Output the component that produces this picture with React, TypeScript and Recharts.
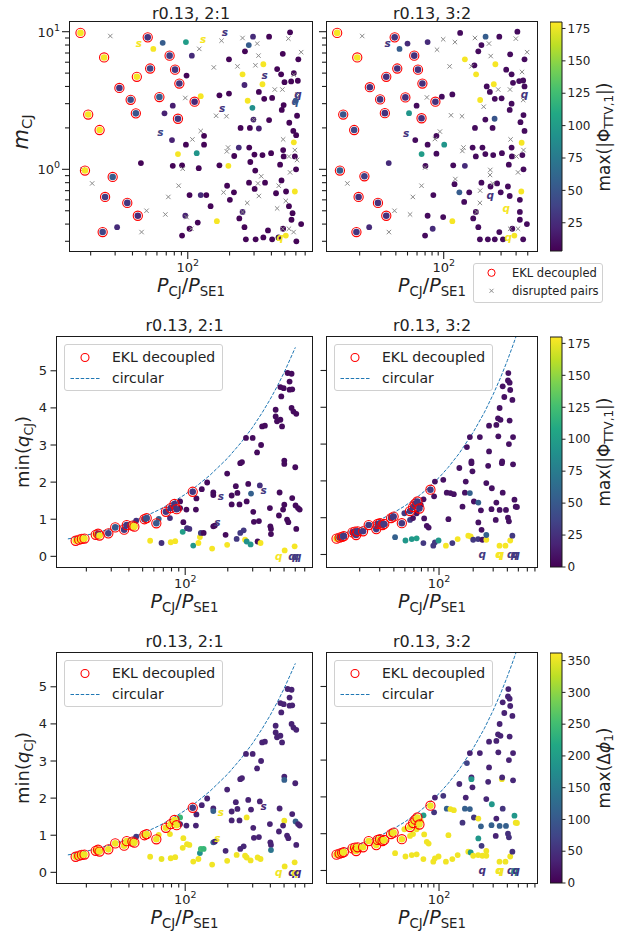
import React from "react";
import { ScatterChart, Scatter, XAxis, YAxis, ComposedChart, ReferenceArea } from "recharts";

// ---------- top row: m_CJ vs P_CJ/P_SE1, colour = max|Phi_TTV,1| ----------
// [P, m, ttv]
const top21Dots = [
  [56.5, 7.5, 178], [66, 8.3, 55], [97, 8.4, 100], [107, 6.7, 25], [98, 4.8, 5], [124, 3.4, 178], [68, 2.55, 20], [78, 2.9, 18],
  [169, 3.45, 5], [198, 6.3, 5], [198, 3.55, 5], [295, 9.2, 25], [275, 8.0, 55], [258, 7.2, 5], [385, 9.2, 5], [545, 9.9, 5],
  [248, 4.9, 178], [350, 5.8, 178], [345, 4.15, 178], [256, 4.1, 22], [270, 3.15, 178], [292, 2.8, 90], [325, 3.65, 5], [355, 3.25, 5],
  [405, 3.3, 5], [385, 2.28, 5], [297, 2.3, 20], [280, 2.0, 5], [325, 1.98, 18], [240, 2.0, 5], [440, 5.35, 5], [470, 4.9, 5],
  [497, 4.3, 5], [580, 5.0, 5], [620, 4.4, 5], [625, 6.3, 5], [483, 6.9, 5], [475, 2.7, 5], [490, 2.93, 5], [555, 4.35, 5],
  [598, 3.15, 50], [538, 2.18, 5], [612, 2.45, 5], [575, 1.9, 5], [603, 1.77, 5], [77, 1.63, 20], [97, 1.51, 5], [131, 1.75, 5],
  [131, 1.51, 5], [85, 1.29, 178], [116, 1.31, 95], [78, 1.06, 5], [91, 1.07, 5], [120, 1.02, 5], [169, 1.07, 5], [196, 1.06, 178],
  [216, 1.25, 5], [233, 1.44, 25], [277, 1.44, 5], [302, 1.28, 5], [282, 1.13, 5], [306, 0.98, 5], [345, 1.27, 5], [398, 1.31, 5],
  [486, 1.38, 5], [490, 1.24, 5], [462, 1.08, 5], [602, 1.0, 5], [580, 1.57, 178], [590, 1.24, 5], [46, 1.11, 5], [124, 0.65, 25],
  [103, 0.65, 5], [136, 0.65, 5], [192, 0.76, 5], [201, 0.6, 5], [215, 0.68, 5], [276, 0.8, 5], [303, 0.72, 5], [360, 0.8, 5],
  [432, 0.67, 5], [473, 0.83, 5], [590, 0.69, 178], [510, 0.69, 5], [535, 0.54, 5], [568, 0.48, 5], [558, 0.43, 5], [655, 0.4, 5],
  [146, 0.54, 5], [96, 0.46, 20], [118, 0.41, 5], [103, 0.37, 5], [162, 0.42, 178], [235, 0.44, 5], [256, 0.38, 5], [248, 0.49, 20],
  [262, 0.31, 5], [308, 0.31, 5], [350, 0.32, 5], [378, 0.36, 5], [405, 0.31, 5], [450, 0.32, 5], [508, 0.33, 178], [486, 0.37, 5],
  [605, 0.3, 5], [31, 0.38, 25], [91, 0.33, 5],
];
const top21Ekl = [
  [16.9, 9.8, 178], [25, 6.5, 178], [19.2, 2.5, 178], [23.2, 1.93, 178], [18.2, 0.98, 178], [28.8, 0.88, 55], [25.4, 0.63, 35], [24.4, 0.35, 40],
  [32.2, 3.9, 30], [38.8, 3.2, 45], [42.3, 2.55, 50], [43, 4.7, 178], [36.7, 0.57, 30], [43.7, 0.46, 25], [51.5, 9.1, 30], [53.6, 5.4, 40],
  [62.5, 3.35, 55], [74, 6.7, 35], [81, 5.3, 30], [87, 4.2, 30], [85, 2.33, 30], [112, 3.1, 22],
];
const top21Cross = [
  [27.7, 9.3], [121, 7.5], [175, 8.6], [248, 9.0], [316, 8.2], [530, 8.9], [655, 7.1], [154, 5.5], [228, 5.6], [307, 5.7],
  [323, 6.7], [423, 3.8], [480, 3.8], [580, 4.87], [615, 3.5], [96, 3.3], [160, 2.45], [190, 2.43], [298, 2.3], [124, 1.9],
  [108, 1.65], [195, 1.44], [191, 1.35], [486, 1.65], [590, 1.38], [612, 1.17], [535, 1.24], [545, 0.95], [20.5, 0.79], [17.5, 1.0],
  [50.5, 0.5], [69, 0.47], [86, 0.76], [72.5, 0.63], [46.5, 0.35], [106, 0.37], [98, 0.45], [181, 0.68], [268, 0.57], [248, 0.49],
  [320, 0.79], [338, 0.89], [325, 0.64], [452, 0.76], [440, 0.52], [508, 0.59], [483, 0.37], [535, 0.37], [578, 0.35], [92, 1.01],
];
const top21Letters = [
  [44.5, 8.2, 178, "s"], [129, 8.7, 178, "s"], [185, 9.8, 30, "s"], [63.5, 1.84, 40, "s"], [177, 2.75, 30, "s"], [358, 4.76, 30, "s"],
  [462, 0.32, 178, "q"], [595, 3.1, 50, "q"], [623, 3.5, 30, "q"],
];

const top32Dots = [
  [42.9, 7.5, 55], [50, 8.2, 25], [73.5, 8.4, 25], [59.5, 2.9, 8], [51.5, 2.56, 95], [58, 1.63, 8], [73.5, 1.51, 8], [87, 1.75, 8],
  [101, 1.51, 95], [87, 1.3, 8], [65.5, 1.29, 100], [34.9, 1.11, 25], [70.5, 1.06, 8], [118, 3.5, 8], [96.5, 3.37, 8], [137, 9.8, 8],
  [223, 9.2, 55], [206, 8.0, 8], [194, 7.2, 8], [290, 9.2, 8], [410, 10, 8], [150, 6.3, 178], [186, 4.9, 178], [180, 5.7, 8],
  [269, 5.8, 178], [261, 4.15, 178], [201, 3.19, 178], [228, 4.0, 8], [242, 3.65, 8], [266, 3.25, 8], [303, 3.28, 8], [357, 6.85, 8],
  [470, 6.3, 8], [331, 5.3, 8], [367, 4.9, 8], [377, 4.25, 8], [424, 4.38, 8], [458, 4.42, 8], [354, 2.7, 8], [367, 3.0, 8],
  [470, 4.0, 8], [461, 2.48, 8], [435, 2.2, 8], [470, 1.9, 8], [182, 2.0, 8], [255, 2.0, 8], [265, 2.33, 50], [222, 2.3, 8],
  [174, 1.44, 8], [210, 1.44, 8], [222, 1.29, 8], [185, 1.24, 8], [150, 1.06, 25], [120, 1.07, 8], [258, 1.27, 8], [305, 1.31, 8],
  [367, 1.44, 8], [369, 1.24, 8], [348, 1.08, 8], [445, 1.56, 178], [451, 1.27, 8], [461, 1.0, 8], [442, 0.69, 178], [135, 0.68, 55],
  [123, 0.78, 8], [163, 0.68, 8], [206, 0.8, 8], [245, 0.75, 8], [278, 0.79, 8], [298, 0.68, 8], [342, 0.75, 8], [354, 0.64, 8],
  [430, 0.6, 8], [430, 0.49, 8], [430, 0.43, 8], [492, 0.4, 8], [82, 0.65, 8], [73.5, 0.46, 8], [99, 0.45, 8], [148, 0.58, 8],
  [118, 0.42, 178], [176, 0.44, 8], [194, 0.38, 8], [185, 0.49, 8], [290, 0.35, 8], [311, 0.31, 8], [372, 0.37, 8], [387, 0.33, 178],
  [200, 0.31, 8], [233, 0.31, 8], [266, 0.31, 8], [458, 0.31, 8], [70, 0.33, 8], [81, 0.37, 25], [24, 0.38, 25],
];
const top32Ekl = [
  [13, 9.8, 178], [19.1, 6.5, 178], [14.6, 2.5, 50], [18, 1.93, 40], [13.7, 0.98, 55], [21.9, 0.89, 35], [19.6, 0.63, 28], [28.4, 0.57, 28],
  [33.3, 0.46, 28], [18.8, 0.35, 30], [24.3, 3.95, 28], [29.6, 3.22, 30], [32.4, 2.56, 28], [33.3, 4.7, 28], [39.1, 9.1, 30], [41.1, 5.4, 28],
  [48, 3.33, 28], [56.9, 6.7, 28], [61.1, 5.3, 28], [66.5, 4.2, 28], [65.4, 2.35, 28], [85.3, 3.1, 28],
];
const top32Cross = [
  [21, 9.3], [15.8, 0.79], [35, 0.35], [39, 0.5], [52.5, 0.47], [55.4, 0.63], [65.4, 0.76], [70, 1.03], [72.5, 3.33], [84.5, 1.66],
  [93, 1.88], [88, 7.4], [99, 8.8], [124, 8.4], [112, 5.6], [115, 2.47], [142, 2.43], [146, 1.44], [143, 1.36], [125, 0.85],
  [182, 9.0], [238, 8.2], [246, 6.65], [170, 5.6], [284, 3.8], [356, 3.8], [215, 2.85], [360, 1.65], [461, 1.38], [403, 1.24],
  [415, 0.95], [243, 0.91], [256, 0.79], [201, 0.7], [200, 0.57], [188, 0.49], [357, 0.37], [398, 8.9], [494, 7.1], [448, 5.1],
  [458, 3.19], [415, 0.37], [244, 0.99],
];
const top32Letters = [
  [34.2, 8.2, 30, "s"], [48.6, 1.83, 30, "s"], [470, 3.5, 30, "q"], [331, 0.52, 178, "q"], [345, 0.32, 178, "q"], [244, 0.64, 30, "q"],
];

// ---------- middle / bottom rows: min(q_CJ) vs P_CJ/P_SE1 ----------
// [P, q, ttv, dphi]
const q21Dots = [
  [45, 0.96, 25, 60], [65, 1.01, 55, 355], [68, 0.36, 25, 350], [56.5, 0.42, 178, 355], [79, 0.38, 178, 355], [85, 0.41, 178, 355],
  [78, 1.03, 25, 355], [92, 1.48, 5, 240], [92, 1.3, 5, 35], [97, 0.92, 5, 355], [96, 0.66, 100, 355], [103, 0.76, 25, 355],
  [107, 0.74, 25, 355], [102, 1.26, 5, 35], [114, 0.29, 95, 355], [124, 0.36, 178, 355], [127, 0.52, 178, 180], [129, 0.63, 30, 250],
  [119, 1.26, 5, 35], [120, 1.56, 5, 35], [131, 1.81, 5, 35], [135, 0.63, 5, 240], [143, 1.99, 5, 35], [158, 1.72, 5, 35],
  [158, 1.65, 5, 110], [158, 0.81, 5, 110], [162, 0.83, 5, 35], [155, 0.21, 178, 355], [193, 0.58, 5, 40], [198, 0.31, 178, 355],
  [198, 2.23, 5, 35], [213, 1.64, 5, 35], [213, 1.4, 5, 35], [228, 1.89, 5, 35], [234, 1.71, 5, 35], [242, 1.4, 5, 35],
  [231, 0.47, 30, 355], [245, 0.63, 30, 40], [245, 2.51, 5, 35], [252, 2.54, 5, 35], [259, 0.7, 30, 40], [265, 0.45, 178, 355],
  [269, 3.19, 5, 35], [272, 1.48, 5, 355], [279, 1.95, 5, 35], [272, 0.4, 90, 355], [292, 1.69, 55, 35], [290, 0.32, 95, 355],
  [300, 3.19, 5, 35], [303, 1.2, 5, 35], [306, 0.93, 5, 35], [322, 2.8, 5, 35], [325, 0.4, 5, 355], [332, 0.95, 5, 35],
  [337, 1.91, 25, 35], [344, 3.0, 5, 35], [350, 3.5, 5, 35], [366, 3.52, 5, 35], [341, 0.36, 178, 355], [397, 1.3, 5, 35],
  [400, 0.81, 5, 35], [404, 0.74, 5, 35], [404, 0.6, 5, 140], [436, 3.95, 5, 35], [436, 3.77, 5, 35], [446, 3.64, 5, 35],
  [471, 4.56, 5, 35], [471, 3.68, 5, 35], [484, 3.5, 5, 35], [465, 1.72, 5, 35], [460, 1.1, 5, 35], [478, 4.31, 5, 35],
  [497, 4.53, 5, 35], [502, 2.58, 5, 35], [502, 2.49, 5, 110], [502, 1.39, 5, 355], [530, 4.94, 5, 35], [547, 4.71, 5, 35],
  [547, 4.49, 5, 35], [565, 4.92, 5, 35], [565, 4.0, 5, 35], [571, 4.5, 5, 35], [571, 1.57, 5, 35], [583, 3.9, 5, 35],
  [600, 2.4, 5, 35], [603, 1.37, 5, 110], [594, 0.27, 178, 355], [505, 0.16, 178, 355], [610, 3.84, 5, 35], [610, 0.74, 5, 35],
  [628, 1.3, 5, 35], [645, 1.26, 5, 35], [525, 0.99, 5, 35], [536, 0.92, 5, 35], [492, 1.26, 5, 35],
];
const q21Ekl = [
  [16.8, 0.42, 178, 355], [17.8, 0.45, 178, 355], [18.6, 0.47, 178, 355], [19.4, 0.48, 178, 355], [23.3, 0.58, 178, 355],
  [24.2, 0.61, 30, 355], [24.8, 0.56, 178, 355], [28.6, 0.62, 35, 355], [32, 0.78, 50, 355], [37, 0.72, 30, 355],
  [38.6, 0.84, 30, 355], [42.3, 0.83, 178, 355], [43.7, 0.8, 178, 355], [51.5, 1.0, 45, 355], [53.4, 1.03, 45, 355],
  [62.5, 0.89, 50, 355], [73, 1.2, 30, 355], [79, 1.3, 28, 355], [84, 1.41, 28, 355], [87, 1.27, 28, 355], [113, 1.74, 28, 60],
];
const q21Letters = [
  [179, 1.62, 30, 355, "s"], [169, 0.92, 30, 355, "s"], [359, 1.77, 30, 40, "s"],
  [458, 0, 178, 355, "q"], [570, 0, 30, 40, "q"], [600, 0, 30, 355, "q"], [625, 0, 30, 40, "q"],
];

const q32Dots = [
  [41, 0.47, 55, 355], [50.6, 0.38, 95, 355], [57.5, 0.42, 95, 355], [63.5, 0.44, 100, 355], [72.8, 0.31, 30, 355], [89, 0.24, 30, 355],
  [92, 0.33, 30, 355], [99, 0.38, 95, 355], [115, 0.24, 178, 355], [131, 0.31, 30, 355], [146, 0.42, 178, 355], [181, 0.51, 178, 355],
  [190, 0.49, 178, 190], [200, 0.4, 30, 355], [221, 0.42, 30, 355], [241, 0.4, 8, 355], [261, 0.4, 178, 355], [261, 0.53, 55, 355],
  [341, 0.24, 178, 355], [385, 0.24, 178, 355], [424, 0.38, 178, 355], [443, 0.51, 30, 50], [49.5, 1.12, 30, 355], [55.5, 0.94, 30, 355],
  [59, 0.99, 8, 355], [63.5, 1.12, 8, 355], [69, 1.35, 8, 355], [73, 1.5, 8, 200], [74, 0.98, 8, 355], [78, 0.78, 8, 355],
  [81, 0.73, 8, 355], [90.5, 1.58, 8, 55], [92, 1.98, 8, 35], [109, 2.03, 8, 55], [117, 1.68, 8, 110], [126, 1.67, 8, 355],
  [121, 0.96, 8, 355], [135, 1.64, 8, 355], [151, 2.35, 8, 40], [161, 1.3, 8, 55], [169, 1.68, 8, 110], [172, 1.98, 8, 35],
  [176, 2.92, 8, 70], [187, 3.19, 8, 35], [193, 2.53, 8, 35], [193, 2.48, 8, 190], [197, 2.26, 8, 35], [203, 1.44, 8, 55],
  [222, 1.41, 55, 355], [187, 1.67, 55, 110], [229, 3.19, 8, 35], [234, 1.2, 8, 110], [222, 0.87, 8, 190], [237, 0.67, 8, 60],
  [261, 1.94, 8, 40], [292, 1.8, 8, 190], [271, 2.41, 8, 40], [276, 2.8, 8, 35], [290, 1.23, 8, 110], [316, 0.94, 8, 35],
  [320, 1.41, 8, 35], [331, 3.7, 8, 35], [333, 3.21, 8, 35], [342, 3.98, 8, 35], [348, 3.66, 8, 35], [342, 1.21, 8, 110],
  [364, 1.68, 8, 55], [358, 2.48, 8, 355], [360, 2.53, 8, 40], [364, 4.57, 8, 35], [376, 4.28, 8, 35], [389, 1.21, 8, 110],
  [405, 1.0, 8, 50], [413, 0.9, 8, 50], [419, 3.64, 8, 35], [413, 3.0, 8, 35], [419, 4.67, 8, 35], [424, 4.47, 8, 35],
  [408, 4.93, 8, 35], [405, 4.73, 8, 35], [443, 4.2, 8, 35], [449, 3.19, 8, 35], [449, 2.45, 8, 40], [462, 1.49, 8, 190],
  [474, 1.3, 8, 355], [486, 1.29, 8, 355], [320, 3.52, 8, 35], [276, 3.5, 8, 35],
];
const q32Ekl = [
  [12.5, 0.43, 178, 355], [13.3, 0.46, 30, 355], [14, 0.48, 45, 355], [14.5, 0.5, 30, 355], [17.3, 0.6, 30, 355], [18.2, 0.62, 30, 355],
  [18.6, 0.53, 30, 355], [19.2, 0.63, 30, 355], [21.4, 0.63, 30, 355], [24, 0.8, 30, 355], [28, 0.69, 30, 355], [28.8, 0.83, 30, 355],
  [30.2, 0.85, 30, 355], [31.8, 0.8, 30, 355], [32.9, 0.83, 30, 355], [37.8, 0.99, 30, 355], [39.8, 1.03, 30, 355], [47, 0.85, 30, 355],
  [55.5, 1.18, 30, 355], [59.2, 1.29, 30, 355], [61.8, 1.38, 30, 355], [64.5, 1.44, 30, 355], [67.2, 1.25, 30, 355], [84, 1.76, 30, 355],
];
const q32Letters = [
  [241, 0, 30, 50, "q"], [337, 0, 178, 355, "q"], [348, 0, 178, 355, "q"], [429, 0, 30, 50, "q"], [462, 0, 30, 180, "q"], [479, 0, 30, 50, "q"],
];

// circular-orbit curve
const circ21P = [14.8, 17, 20, 25, 30, 40, 50, 65, 80, 100, 120, 150, 200, 250, 300, 350, 400, 450, 500, 550, 601];
const circ21Q = [0.47, 0.51, 0.57, 0.66, 0.75, 0.91, 1.05, 1.25, 1.44, 1.67, 1.89, 2.19, 2.65, 3.08, 3.48, 3.87, 4.24, 4.6, 4.95, 5.3, 5.63];
const circ32P = [12.2, 15, 20, 25, 30, 40, 50, 65, 80, 100, 120, 150, 200, 250, 300, 350, 400, 450, 478];
const circ32Q = [0.51, 0.59, 0.72, 0.83, 0.94, 1.14, 1.32, 1.57, 1.8, 2.09, 2.36, 2.74, 3.32, 3.85, 4.35, 4.82, 5.27, 5.7, 5.93];

const X_TICKS = [20, 30, 40, 50, 60, 70, 80, 90, 100, 200, 300, 400, 500, 600, 700, 800, 900];
const Y_LOG_TICKS = [0.3, 0.4, 0.5, 0.6, 0.7, 0.8, 0.9, 1, 2, 3, 4, 5, 6, 7, 8, 9, 10];
const Y_LIN_TICKS = [0, 1, 2, 3, 4, 5];
const TTV_TICKS = [25, 50, 75, 100, 125, 150, 175];
const TTV0_TICKS = [0, 25, 50, 75, 100, 125, 150, 175];
const DPHI_TICKS = [0, 50, 100, 150, 200, 250, 300, 350];

const VIR = [
  [68, 1, 84], [72, 36, 117], [65, 68, 135], [53, 95, 141], [42, 120, 142], [33, 145, 140],
  [34, 168, 132], [68, 191, 112], [122, 209, 81], [189, 223, 38], [253, 231, 37],
];
function viridis(t: number) {
  const s = Math.max(0, Math.min(1, t)) * 10;
  const i = Math.min(9, Math.floor(s));
  const f = s - i;
  const a = VIR[i];
  const b = VIR[i + 1];
  const c = a.map((v, k) => Math.round(v + (b[k] - v) * f));
  return `rgb(${c[0]},${c[1]},${c[2]})`;
}

const INK = "#222";

function XTick(props: any) {
  const { x, y, payload } = props;
  const major = payload.value === 100;
  return (
    <g>
      <line x1={x} x2={x} y1={y} y2={y + (major ? 8 : 4.5)} stroke={INK} strokeWidth={1.1} />
      {major && (
        <text x={x} y={y + 21} textAnchor="middle" fontSize={13} fill={INK}>
          10<tspan dy={-6} fontSize={9.5}>2</tspan>
        </text>
      )}
    </g>
  );
}

function YTick(props: any) {
  const { x, y, payload, logAxis, showLabel } = props;
  const v = payload.value;
  const major = logAxis ? v === 1 || v === 10 : true;
  const len = logAxis ? (major ? 8 : 5) : 6.5;
  return (
    <g>
      <line x1={x - len} x2={x} y1={y} y2={y} stroke={INK} strokeWidth={1.1} />
      {showLabel && major && logAxis && (
        <text x={x - 10} y={y + 5} textAnchor="end" fontSize={13} fill={INK}>
          10<tspan dy={-6} fontSize={9.5}>{v === 10 ? "1" : "0"}</tspan>
        </text>
      )}
      {showLabel && !logAxis && (
        <text x={x - 10} y={y + 4.6} textAnchor="end" fontSize={13} fill={INK}>
          {v}
        </text>
      )}
    </g>
  );
}

type Pt = { x: number; y: number; c: number; ch?: string };

function Panel(props: any) {
  const { left, top, w, h, axisW, xDomain, yDomain, logY, yLabels, dots, ekl, crosses, letters, line, cmin, cmax } = props;
  const col = (c: number) => viridis((c - cmin) / (cmax - cmin));
  const xt = X_TICKS.filter((t) => t >= xDomain[0] && t <= xDomain[1]);
  const yt = (logY ? Y_LOG_TICKS : Y_LIN_TICKS).filter((t) => t >= yDomain[0] && t <= yDomain[1]);
  return (
    <>
      <div style={{ position: "absolute", left: left - axisW, top }}>
        <ScatterChart width={axisW + w} height={h + 45} margin={{ top: 0, right: 0, bottom: 0, left: 0 }}>
          <XAxis
            type="number" dataKey="x" scale="log" domain={xDomain} allowDataOverflow
            ticks={xt} interval={0} tickLine={false} axisLine={false} tickSize={0} tickMargin={0}
            height={45} tick={<XTick />}
          />
          <YAxis
            type="number" dataKey="y" scale={logY ? "log" : "linear"} domain={yDomain} allowDataOverflow
            ticks={yt} interval={0} tickLine={false} axisLine={false} tickSize={0} tickMargin={0}
            width={axisW} tick={<YTick logAxis={logY} showLabel={yLabels} />}
          />
          {line && (
            <Scatter
              data={line} isAnimationActive={false}
              line={{ stroke: "#1f77b4", strokeWidth: 1, strokeDasharray: "3.5 1.6" }}
              shape={() => <g />}
            />
          )}
          <Scatter
            data={dots} isAnimationActive={false}
            shape={(p: any) => <circle cx={p.cx} cy={p.cy} r={2.9} fill={col(p.payload.c)} />}
          />
          {crosses && (
            <Scatter
              data={crosses} isAnimationActive={false}
              shape={(p: any) => (
                <path
                  d={`M${p.cx - 2.2},${p.cy - 2.2}L${p.cx + 2.2},${p.cy + 2.2}M${p.cx - 2.2},${p.cy + 2.2}L${p.cx + 2.2},${p.cy - 2.2}`}
                  stroke="#8a8a8a" strokeWidth={1} fill="none"
                />
              )}
            />
          )}
          <Scatter
            data={letters} isAnimationActive={false}
            shape={(p: any) => (
              <text x={p.cx} y={p.cy} dy="0.32em" textAnchor="middle" fontSize={10.5} fontStyle="italic" fontWeight="bold" fill={col(p.payload.c)}>
                {p.payload.ch}
              </text>
            )}
          />
          <Scatter
            data={ekl} isAnimationActive={false}
            shape={(p: any) => (
              <g>
                <circle cx={p.cx} cy={p.cy} r={3.3} fill={col(p.payload.c)} />
                <circle cx={p.cx} cy={p.cy} r={4.6} fill="none" stroke="#ff0000" strokeWidth={1.1} />
              </g>
            )}
          />
        </ScatterChart>
      </div>
      <div style={{ position: "absolute", left, top, width: w, height: h, boxShadow: "0 0 0 1px #1a1a1a", pointerEvents: "none" }} />
    </>
  );
}

function Colorbar({ left, top, h, min, max, ticks, id }: any) {
  return (
    <div style={{ position: "absolute", left, top: top - 8 }}>
      <ComposedChart width={62} height={h + 16} margin={{ top: 8, right: 0, bottom: 8, left: 0 }}>
        <defs>
          <linearGradient id={id} x1="0" y1="1" x2="0" y2="0">
            {VIR.map((c, i) => (
              <stop key={i} offset={i / 10} stopColor={`rgb(${c[0]},${c[1]},${c[2]})`} />
            ))}
          </linearGradient>
        </defs>
        <XAxis type="number" dataKey="x" domain={[0, 1]} hide />
        <YAxis
          type="number" dataKey="y" orientation="right" domain={[min, max]} allowDataOverflow
          ticks={ticks} interval={0} width={50} axisLine={false} tickSize={3.5} tickMargin={2}
          tickLine={{ stroke: INK }} tick={{ fontSize: 12, fill: INK }}
        />
        <ReferenceArea x1={0} x2={1} y1={min} y2={max} fill={`url(#${id})`} fillOpacity={1} stroke="#1a1a1a" strokeWidth={1} />
        <Scatter data={[{ x: 0.5, y: min }]} isAnimationActive={false} shape={() => <g />} />
      </ComposedChart>
    </div>
  );
}

const Sub = ({ children }: any) => (
  <span style={{ fontSize: "0.7em", position: "relative", top: "0.28em" }}>{children}</span>
);

function XLabel({ cx, top }: any) {
  return (
    <div style={{ position: "absolute", left: cx - 100, width: 200, top, textAlign: "center", fontSize: 19, lineHeight: 1, whiteSpace: "nowrap" }}>
      <i>P</i><Sub>CJ</Sub>/<i>P</i><Sub>SE1</Sub>
    </div>
  );
}

function VLabel({ cx, cy, size, children }: any) {
  return (
    <div style={{ position: "absolute", left: cx, top: cy, transform: "translate(-50%,-50%) rotate(-90deg)", fontSize: size, lineHeight: 1, whiteSpace: "nowrap" }}>
      {children}
    </div>
  );
}

function Title({ cx, top, text }: any) {
  return (
    <div style={{ position: "absolute", left: cx - 100, width: 200, top, textAlign: "center", fontSize: 16, lineHeight: 1 }}>{text}</div>
  );
}

function LegendBox({ left, top }: any) {
  return (
    <div style={{ position: "absolute", left, top, width: 159, height: 47, boxSizing: "border-box", border: "1px solid #d0d0d0", borderRadius: 3, background: "rgba(255,255,255,0.85)" }}>
      <svg width={40} height={45} style={{ position: "absolute", left: 0, top: 0 }}>
        <circle cx={20} cy={12.5} r={4} fill="none" stroke="#ff0000" strokeWidth={1.1} />
        <line x1={5.5} x2={35} y1={33.5} y2={33.5} stroke="#1f77b4" strokeWidth={1} strokeDasharray="3.5 1.6" />
      </svg>
      <div style={{ position: "absolute", left: 47, top: 4, fontSize: 14, lineHeight: "16px" }}>EKL decoupled</div>
      <div style={{ position: "absolute", left: 47, top: 25, fontSize: 14, lineHeight: "16px" }}>circular</div>
    </div>
  );
}

const toPts = (rows: any[], k: number): Pt[] => rows.map((r) => ({ x: r[0], y: r[1], c: r[k] }));
const toLetters = (rows: any[], k: number): Pt[] => rows.map((r) => ({ x: r[0], y: r[1], c: r[k], ch: r[r.length - 1] }));
const toCross = (rows: number[][]): Pt[] => rows.map((r) => ({ x: r[0], y: r[1], c: 0 }));
const toLine = (xs: number[], ys: number[]): Pt[] => xs.map((x, i) => ({ x, y: ys[i], c: 0 }));

export default function App() {
  const topY: [number, number] = [0.255, 11.76];
  const qL: [number, number] = [-0.287, 5.91];
  const qR: [number, number] = [-0.34, 5.91];
  const rows = [
    { top: 337, key: 2, cmin: 0, cmax: 180 },
    { top: 653, key: 3, cmin: 0, cmax: 362 },
  ];
  return (
    <div style={{ position: "absolute", left: 0, top: 0, width: 628, height: 935, background: "#fff", fontFamily: '"DejaVu Sans", sans-serif', color: INK, overflow: "hidden" }}>
      {/* top row */}
      <Title cx={191} top={5.5} text="r0.13, 2:1" />
      <Title cx={432} top={5.5} text="r0.13, 3:2" />
      <Panel
        left={70} top={22} w={242} h={229} axisW={70} xDomain={[14.2, 784]} yDomain={topY} logY yLabels
        dots={toPts(top21Dots, 2)} ekl={toPts(top21Ekl, 2)} crosses={toCross(top21Cross)} letters={toLetters(top21Letters, 2)}
        cmin={3.2} cmax={180}
      />
      <Panel
        left={327} top={22} w={210} h={229} axisW={15} xDomain={[10.7, 597]} yDomain={topY} logY yLabels={false}
        dots={toPts(top32Dots, 2)} ekl={toPts(top32Ekl, 2)} crosses={toCross(top32Cross)} letters={toLetters(top32Letters, 2)}
        cmin={3.2} cmax={180}
      />
      <Colorbar left={550} top={22} h={229} min={3.2} max={180} ticks={TTV_TICKS} id="vir0" />
      <VLabel cx={21} cy={132} size={21}><i>m</i><Sub>CJ</Sub></VLabel>
      <XLabel cx={191} top={251 + 25} />
      <XLabel cx={432} top={251 + 25} />
      <VLabel cx={604} cy={136.5} size={17}>max(|Φ<Sub>TTV,1</Sub>|)</VLabel>
      <div style={{ position: "absolute", left: 473, top: 263, width: 130, height: 40, boxSizing: "border-box", border: "1px solid #d0d0d0", borderRadius: 3, background: "#fff" }}>
        <svg width={36} height={38} style={{ position: "absolute", left: 0, top: 0 }}>
          <circle cx={17.5} cy={8.8} r={3.6} fill="none" stroke="#ff0000" strokeWidth={1} />
          <path d="M15.5,24.8L19.5,28.8M15.5,28.8L19.5,24.8" stroke="#8a8a8a" strokeWidth={1} />
        </svg>
        <div style={{ position: "absolute", left: 38, top: 1.5, fontSize: 11.5, lineHeight: "14px" }}>EKL decoupled</div>
        <div style={{ position: "absolute", left: 38, top: 19.5, fontSize: 11.5, lineHeight: "14px" }}>disrupted pairs</div>
      </div>

      {/* middle and bottom rows */}
      {rows.map((r, i) => (
        <React.Fragment key={i}>
          <Title cx={184.5} top={r.top - 19} text="r0.13, 2:1" />
          <Title cx={432} top={r.top - 19} text="r0.13, 3:2" />
          <Panel
            left={57} top={r.top} w={255} h={230} axisW={57} xDomain={[12.4, 788]} yDomain={qL} logY={false} yLabels
            dots={toPts(q21Dots, r.key)} ekl={toPts(q21Ekl, r.key)} letters={toLetters(q21Letters, r.key)}
            line={toLine(circ21P, circ21Q)} cmin={r.cmin} cmax={r.cmax}
          />
          <Panel
            left={327} top={r.top} w={210} h={230} axisW={15} xDomain={[10.3, 730]} yDomain={qR} logY={false} yLabels={false}
            dots={toPts(q32Dots, r.key)} ekl={toPts(q32Ekl, r.key)} letters={toLetters(q32Letters, r.key)}
            line={toLine(circ32P, circ32Q)} cmin={r.cmin} cmax={r.cmax}
          />
          <LegendBox left={64} top={r.top + 7} />
          <LegendBox left={334} top={r.top + 7} />
          <Colorbar
            left={550} top={r.top} h={230} min={r.cmin} max={r.key === 2 ? 180 : 362}
            ticks={r.key === 2 ? TTV0_TICKS : DPHI_TICKS} id={`vir${r.key}`}
          />
          <VLabel cx={22.5} cy={r.top + 115} size={18}>min(<i>q</i><Sub>CJ</Sub>)</VLabel>
          <XLabel cx={184.5} top={r.top + 230 + 25} />
          <XLabel cx={432} top={r.top + 230 + 25} />
          <VLabel cx={604} cy={r.top + 115} size={17}>
            {r.key === 2 ? <>max(|Φ<Sub>TTV,1</Sub>|)</> : <>max(Δ<i>ϕ</i><Sub>1</Sub>)</>}
          </VLabel>
        </React.Fragment>
      ))}
    </div>
  );
}
